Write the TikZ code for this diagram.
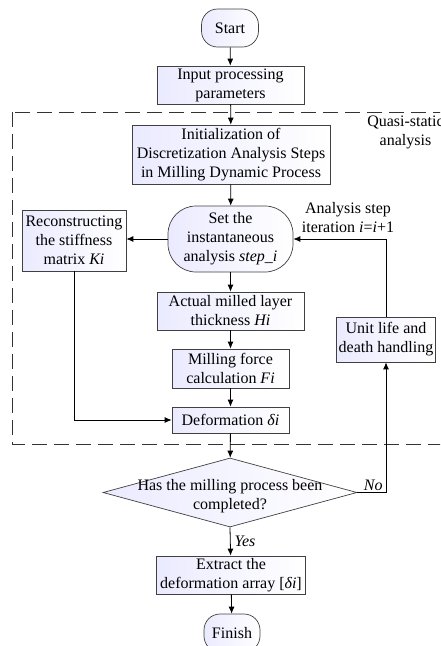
\documentclass[tikz,border=0pt]{standalone}
\usepackage{fontspec}
\setmainfont{Liberation Serif}
\usetikzlibrary{arrows.meta, shapes.geometric}

\tikzset{
  flowbox/.style={draw=black!75, line width=0.7pt, left color=blue!8, right color=white, align=center, inner sep=0pt},
  termbox/.style={flowbox, rounded corners=16pt},
  decide/.style={flowbox, diamond, aspect=3.68, minimum width=254pt, minimum height=69pt},
  link/.style={line width=0.8pt, -{Latex[length=7pt, width=6pt]}},
  note/.style={inner sep=1pt, align=center},
}

\begin{document}
\begin{tikzpicture}[x=1pt, y=-1pt, every node/.style={font=\fontsize{16}{19}\selectfont}]
  \clip (0,0) rectangle (440,646);
  % frame of the quasi-static part
  \draw[line width=0.8pt, black!80, dash pattern=on 15pt off 7pt] (12,112) rectangle (470,444);
  \node[note] (quasi) at (405.5,132.5) {Quasi-static\\analysis};
  \node[note] (iterlbl) at (348,217.5) {Analysis step\\iteration \textit{i}=\textit{i}+1};

  \node[termbox, minimum width=57pt, minimum height=38pt] (start) at (230,28) {Start};
  \node[flowbox, minimum width=147pt, minimum height=38pt] (input) at (230.5,85) {Input processing\\parameters};
  \node[flowbox, minimum width=198pt, minimum height=59pt] (init) at (231,154.5) {Initialization of\\Discretization Analysis Steps\\in Milling Dynamic Process};
  \node[termbox, rounded corners=28pt, minimum width=125pt, minimum height=66pt] (setstep) at (230.5,239) {Set the\\instantaneous\\analysis \textit{step\_i}};
  \node[flowbox, minimum width=104pt, minimum height=61pt] (recon) at (74,240.5) {Reconstructing\\the stiffness\\matrix \textit{Ki}};
  \node[flowbox, minimum width=147pt, minimum height=38pt] (layer) at (230.5,311) {Actual milled layer\\thickness \textit{Hi}};
  \node[flowbox, minimum width=117pt, minimum height=39pt] (force) at (230.5,368.5) {Milling force\\calculation \textit{Fi}};
  \node[flowbox, minimum width=117pt, minimum height=26pt] (deform) at (230.5,420) {Deformation \textit{δi}};
  \node[flowbox, minimum width=99pt, minimum height=45pt] (unit) at (386,339.5) {Unit life and\\death handling};
  \node[decide] (done) at (230,492.5) {\smash{\raisebox{-8pt}{\makebox[0pt]{\begin{tabular}{@{}c@{}}Has the milling process been\\completed?\end{tabular}}}}};
  \node[flowbox, minimum width=149pt, minimum height=38pt] (extract) at (231,575) {Extract the\\deformation array [\textit{δi}]};
  \node[termbox, minimum width=56pt, minimum height=38pt] (finish) at (232,633) {Finish};

  \draw[link] (start) -- (input);
  \draw[link] (input) -- (init);
  \draw[link] (init) -- (setstep);
  \draw[link] (setstep.west) -- (setstep.west -| recon.east);
  \draw[link] (recon.south) |- (deform.west);
  \draw[link] (setstep) -- (layer);
  \draw[link] (layer) -- (force);
  \draw[link] (force) -- (deform);
  \draw[link] (deform) -- (done);
  \coordinate (nocorner) at (done.east -| unit.south);
  \draw[link] (done.east) -- (nocorner) node[note, above left, xshift=-2pt] {\textit{No}} -- (unit.south);
  \draw[link] (unit.north) |- (setstep.east);
  \draw[link] (done.south) -- (extract) node[note, midway, right, xshift=3pt] {\textit{Yes}};
  \draw[link] (extract) -- (finish);
\end{tikzpicture}
\end{document}
